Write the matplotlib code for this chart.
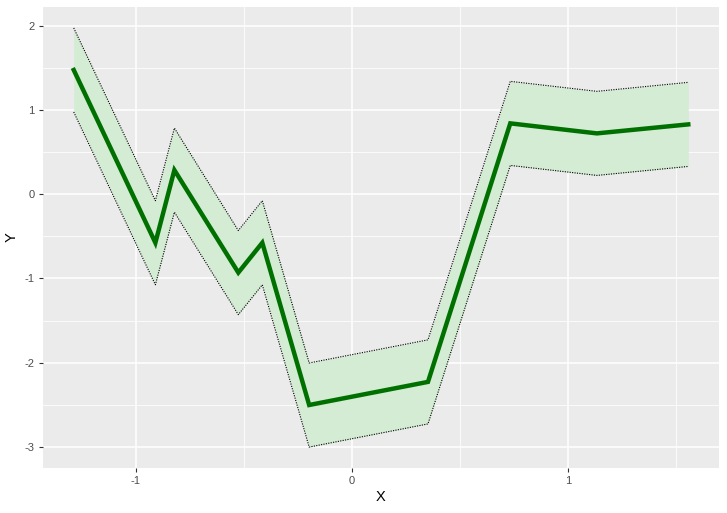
import numpy as np
import matplotlib
matplotlib.use("Agg")
import matplotlib.pyplot as plt

plt.rcParams["font.family"] = ["Liberation Sans", "DejaVu Sans"]
plt.rcParams["axes.unicode_minus"] = False

# values
x = [-1.287, -0.909, -0.821, -0.525, -0.414, -0.197, 0.353, 0.734, 1.135, 1.558]
y = [1.48, -0.575, 0.289, -0.93, -0.575, -2.505, -2.23, 0.845, 0.726, 0.833]
lower = [v - 0.5 for v in y]
upper = [v + 0.5 for v in y]

x_ticks = [-1, 0, 1]
y_ticks = [-3, -2, -1, 0, 1, 2]

fig = plt.figure(figsize=(7.27, 5.13), dpi=100)
ax = fig.add_axes([43 / 727, 1 - 468 / 513, 676 / 727, 461 / 513])
ax.set_facecolor("#ebebeb")

ax.fill_between(x, lower, upper, color="#d3ecd3", zorder=2, linewidth=0)
ax.plot(x, upper, color="black", linestyle=(0, (1, 1.2)), linewidth=0.8, zorder=3)
ax.plot(x, lower, color="black", linestyle=(0, (1, 1.2)), linewidth=0.8, zorder=3)
ax.plot(x, y, color="#007000", linewidth=3.2, zorder=4, solid_joinstyle="miter")

ax.set_xticks(x_ticks)
ax.set_xticklabels([str(t) for t in x_ticks])
ax.set_yticks(y_ticks)
ax.set_yticklabels([str(t) for t in y_ticks])
ax.set_xticks(np.arange(-1.5, 2.0, 0.5), minor=True)
ax.set_yticks(np.arange(-2.5, 2.5, 0.5), minor=True)

# ggplot-style 5% expansion, set after the ticks so they don't widen it
xr = max(x) - min(x)
ax.set_xlim(min(x) - 0.05 * xr, max(x) + 0.05 * xr)
yr = max(upper) - min(lower)
ax.set_ylim(min(lower) - 0.05 * yr, max(upper) + 0.05 * yr)

ax.grid(which="major", color="white", linewidth=1.1, zorder=1)
ax.grid(which="minor", color="white", linewidth=0.55, zorder=1)
ax.set_axisbelow(True)
ax.tick_params(which="major", length=3, width=0.8, color="#333333",
               labelsize=8, labelcolor="#4d4d4d", pad=3)
ax.tick_params(which="minor", length=0)
for s in ax.spines.values():
    s.set_visible(False)

ax.set_xlabel("X", fontsize=10.5, labelpad=3)
ax.set_ylabel("Y", fontsize=10.5, labelpad=4)

fig.savefig("out.png", dpi=100)
